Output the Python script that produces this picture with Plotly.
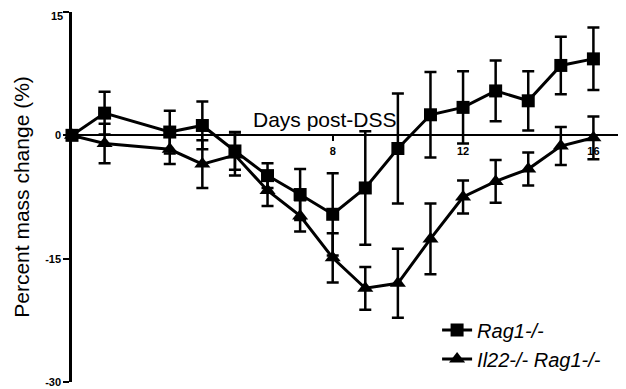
import plotly.graph_objects as go

days = [0, 1, 3, 4, 5, 6, 7, 8, 9, 10, 11, 12, 13, 14, 15, 16]
rag1 = [0, 2.7, 0.4, 1.2, -1.9, -4.9, -7.2, -9.6, -6.4, -1.6, 2.5, 3.4, 5.4, 4.2, 8.5, 9.3]
rag1_err = [0, 2.6, 2.6, 2.9, 2.3, 1.5, 3.1, 5.0, 6.9, 6.7, 5.2, 4.4, 3.7, 3.6, 3.5, 3.8]
il22 = [0, -1.0, -1.7, -3.5, -2.4, -6.7, -9.8, -14.9, -18.6, -18.0, -12.6, -7.5, -5.6, -4.1, -1.3, -0.3]
il22_err = [0, 2.4, 1.8, 2.9, 2.5, 1.9, 1.9, 3.0, 2.6, 4.2, 4.3, 2.0, 2.6, 2.0, 2.3, 2.6]

x_ticks = [4, 8, 12, 16]
x_ticklabels = ["", "8", "12", "16"]
y_ticks = [-30, -15, 0, 15]
y_ticklabels = ["-30", "-15", "0", "15"]

names = ["<i>Rag1-/-</i>", "<i>Il22-/- Rag1-/-</i>"]

fig = go.Figure()
for name, ys, err, sym, sz in [
    (names[0], rag1, rag1_err, "square", 13),
    (names[1], il22, il22_err, "triangle-up", 14),
]:
    fig.add_trace(go.Scatter(
        x=days, y=ys, name=name, mode="lines+markers",
        line=dict(color="black", width=3),
        marker=dict(symbol=sym, size=sz, color="black"),
        error_y=dict(type="data", array=err, visible=True, color="black",
                     thickness=2.5, width=6),
        cliponaxis=False,
    ))

tickfont = dict(size=11, family="Arial, Liberation Sans, sans-serif", weight="bold")

# the top tick label is drawn as an annotation so that it stays inside the page
top_label = dict(text=y_ticklabels[-1], x=0, xref="paper", y=y_ticks[-1], yref="y",
                 xanchor="right", yanchor="top", xshift=-7, yshift=4,
                 showarrow=False, font=tickfont)

# The page body adds an 8px offset, so the figure is sized to fill the rest.
fig.update_layout(
    width=618, height=381,
    margin=dict(l=64, r=0, t=4, b=7),
    paper_bgcolor="white", plot_bgcolor="white",
    font=dict(family="Arial, Liberation Sans, sans-serif", color="black"),
    showlegend=True,
    legend=dict(x=0.659, y=0.193, xanchor="left", yanchor="top",
                font=dict(size=20), itemwidth=30, tracegroupgap=0,
                bgcolor="rgba(0,0,0,0)"),
    xaxis=dict(range=[0, 17], anchor="free", position=30 / 45, automargin=False,
               showline=True, linecolor="black", linewidth=2,
               ticks="outside", ticklen=5, tickwidth=2, tickcolor="black",
               tickvals=x_ticks, ticktext=x_ticklabels, tickfont=tickfont,
               ticklabeloverflow="allow",
               showgrid=False, zeroline=False, layer="below traces"),
    yaxis=dict(range=[-30, 15], automargin=False,
               showline=True, linecolor="black", linewidth=2.5,
               ticks="outside", ticklen=6, tickwidth=2, tickcolor="black",
               tickvals=y_ticks, ticktext=y_ticklabels[:-1] + [""], tickfont=tickfont,
               ticklabeloverflow="allow",
               showgrid=False, zeroline=False,
               title=dict(text="Percent mass change (%)", font=dict(size=21), standoff=10)),
    annotations=[
        dict(text="Days post-DSS", x=7.76, y=0, xref="x", yref="y",
             xanchor="center", yanchor="bottom", yshift=2,
             showarrow=False, font=dict(size=21)),
        top_label,
    ],
)

fig.write_html("out.html")
